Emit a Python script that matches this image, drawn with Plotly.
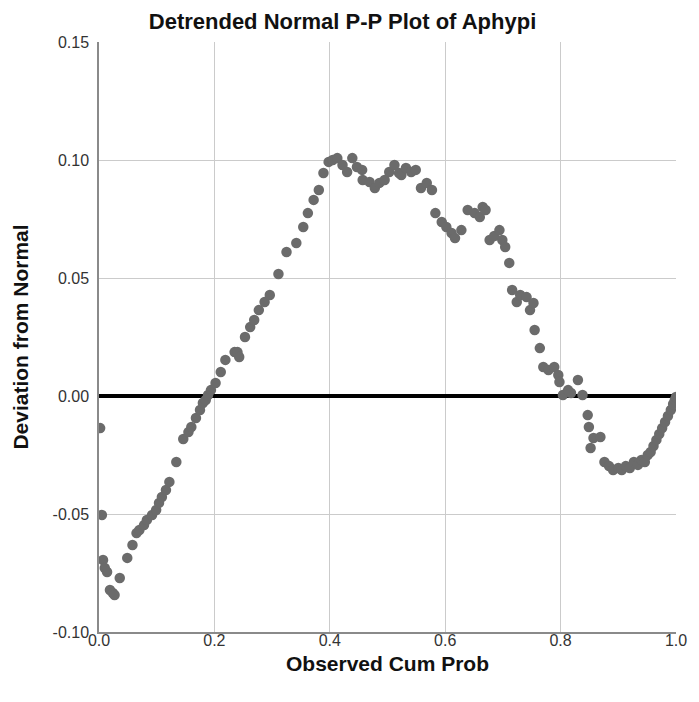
import plotly.graph_objects as go

# Observed cumulative probability and deviation from normal
obs_cum_prob = [
    0.002, 0.005, 0.007, 0.010, 0.014, 0.019, 0.024, 0.027, 0.036, 0.049,
    0.058, 0.065, 0.070, 0.078, 0.083, 0.092, 0.099, 0.104, 0.109, 0.116,
    0.122, 0.134, 0.146, 0.155, 0.160, 0.168, 0.175, 0.180, 0.185, 0.189,
    0.194, 0.202, 0.211, 0.219, 0.235, 0.240, 0.243, 0.253, 0.262, 0.269,
    0.277, 0.287, 0.296, 0.311, 0.325, 0.342, 0.354, 0.362, 0.372, 0.381,
    0.389, 0.398, 0.405, 0.413, 0.422, 0.430, 0.439, 0.447, 0.456, 0.457,
    0.469, 0.478, 0.486, 0.495, 0.503, 0.512, 0.520, 0.524, 0.532, 0.541,
    0.549, 0.558, 0.568, 0.577, 0.583, 0.594, 0.602, 0.611, 0.617, 0.628,
    0.639, 0.651, 0.660, 0.665, 0.670, 0.677, 0.685, 0.694, 0.699, 0.704,
    0.711, 0.716, 0.724, 0.730, 0.741, 0.747, 0.753, 0.755, 0.764, 0.770,
    0.779, 0.789, 0.796, 0.798, 0.804, 0.813, 0.818, 0.830, 0.838, 0.847,
    0.849, 0.852, 0.857, 0.869, 0.876, 0.884, 0.891, 0.900, 0.906, 0.913,
    0.920, 0.927, 0.934, 0.940, 0.946, 0.951, 0.956, 0.961, 0.966, 0.971,
    0.976, 0.981, 0.986, 0.991, 0.995, 0.998, 1.000,
]
deviation = [
    -0.0136, -0.0504, -0.0695, -0.0729, -0.0746, -0.0822, -0.0835, -0.0843, -0.0771, -0.0686,
    -0.0631, -0.0581, -0.0568, -0.0547, -0.0525, -0.0504, -0.0483, -0.0453, -0.0428, -0.0398,
    -0.0364, -0.0280, -0.0182, -0.0153, -0.0131, -0.0093, -0.0059, -0.0030, -0.0017, 0.0004,
    0.0025, 0.0055, 0.0102, 0.0153, 0.0186, 0.0186, 0.0165, 0.0250, 0.0292, 0.0322,
    0.0364, 0.0398, 0.0428, 0.0517, 0.0610, 0.0648, 0.0716, 0.0775, 0.0831, 0.0873,
    0.0945, 0.0992, 0.1000, 0.1008, 0.0979, 0.0949, 0.1008, 0.0970, 0.0958, 0.0915,
    0.0907, 0.0881, 0.0903, 0.0915, 0.0949, 0.0979, 0.0945, 0.0936, 0.0966, 0.0949,
    0.0958, 0.0881, 0.0903, 0.0873, 0.0775, 0.0737, 0.0716, 0.0691, 0.0669, 0.0703,
    0.0788, 0.0775, 0.0758, 0.0801, 0.0788, 0.0661, 0.0678, 0.0703, 0.0661, 0.0631,
    0.0564, 0.0449, 0.0398, 0.0428, 0.0419, 0.0364, 0.0394, 0.0280, 0.0203, 0.0123,
    0.0110, 0.0123, 0.0089, 0.0059, 0.0004, 0.0025, 0.0013, 0.0068, 0.0004, -0.0081,
    -0.0131, -0.0220, -0.0178, -0.0174, -0.0280, -0.0297, -0.0314, -0.0305, -0.0314, -0.0297,
    -0.0305, -0.0280, -0.0292, -0.0271, -0.0280, -0.0250, -0.0237, -0.0212, -0.0186, -0.0161,
    -0.0136, -0.0110, -0.0085, -0.0059, -0.0034, -0.0017, -0.0004,
]
x_ticks = [0.0, 0.2, 0.4, 0.6, 0.8, 1.0]
y_ticks = [-0.10, -0.05, 0.00, 0.05, 0.10, 0.15]

FONT = "Liberation Sans, Arial, sans-serif"

fig = go.Figure()
fig.add_trace(go.Scatter(
    x=[0, 1], y=[0, 0], mode="lines",
    line=dict(color="black", width=4), hoverinfo="skip", showlegend=False,
))
fig.add_trace(go.Scatter(
    x=obs_cum_prob, y=deviation, mode="markers",
    marker=dict(size=10.5, color="#6b6b6b", line=dict(width=0)),
    showlegend=False,
))

fig.update_layout(
    width=699, height=702,
    margin=dict(l=99, r=12, t=42, b=70),
    paper_bgcolor="white", plot_bgcolor="white",
    font=dict(family=FONT, color="#222222"),
    title=dict(
        text="<b>Detrended Normal P-P Plot of Aphypi</b>",
        x=0.49, xanchor="center", y=0.969, yanchor="middle",
        font=dict(family=FONT, size=22, color="#111111"),
    ),
)
fig.update_xaxes(
    range=[0, 1], tickvals=x_ticks, ticktext=[f"{v:.1f}" for v in x_ticks],
    showgrid=True, gridcolor="#cbcbcb", gridwidth=1,
    showline=True, linecolor="#8a8a8a", linewidth=1.5,
    zeroline=False, ticks="", ticklabelstandoff=-7,
    tickfont=dict(family=FONT, size=16, color="#333333"),
    title=dict(text="<b>Observed Cum Prob</b>", standoff=8,
               font=dict(family=FONT, size=21, color="#111111")),
)
fig.update_yaxes(
    range=[-0.10, 0.15], tickvals=y_ticks, ticktext=[f"{v:.2f}" for v in y_ticks],
    showgrid=True, gridcolor="#cbcbcb", gridwidth=1,
    showline=True, linecolor="#8a8a8a", linewidth=1.5,
    zeroline=False, ticks="", ticklabelstandoff=5,
    tickfont=dict(family=FONT, size=16, color="#333333"),
    title=dict(text="<b>Deviation from Normal</b>", standoff=18,
               font=dict(family=FONT, size=21, color="#111111")),
)

fig.write_html("out.html")
